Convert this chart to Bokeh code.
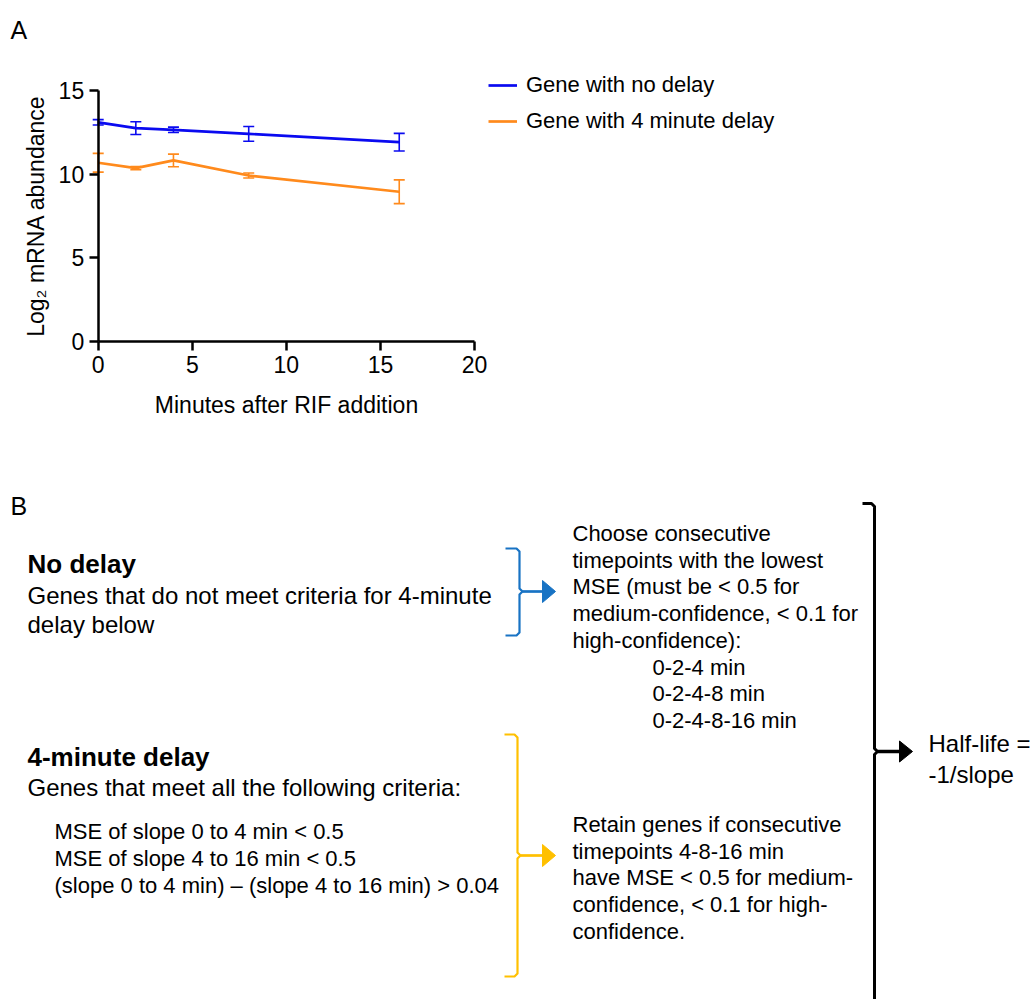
from bokeh.plotting import figure
from bokeh.models import (Range1d, FixedTicker, ColumnDataSource, Whisker, TeeHead,
                          Legend, LegendItem, LinearAxis)
from bokeh.embed import file_html
from bokeh.resources import INLINE
from bokeh.core.properties import value

FONT = "Liberation Sans"

# ---- Panel A data: log2 mRNA abundance after rifampicin addition ----
minutes = [0, 2, 4, 8, 16]
no_delay_mean = [13.10, 12.75, 12.65, 12.41, 11.91]
no_delay_err = [0.16, 0.38, 0.16, 0.44, 0.53]
delay_mean = [10.68, 10.36, 10.82, 9.92, 8.95]
delay_err = [0.56, 0.10, 0.38, 0.15, 0.71]
series_labels = ["Gene with no delay", "Gene with 4 minute delay"]
series_colors = ["#0a0af0", "#ff8a1c"]
x_ticks = [0, 5, 10, 15, 20]
y_ticks = [0, 5, 10, 15]

# ---- Panel B text ----
no_delay_title = "No delay"
no_delay_body = ["Genes that do not meet criteria for 4-minute", "delay below"]
delay_title = "4-minute delay"
delay_body = ["Genes that meet all the following criteria:"]
delay_criteria = ["MSE of slope 0 to 4 min < 0.5",
                  "MSE of slope 4 to 16 min < 0.5",
                  "(slope 0 to 4 min) \u2013 (slope 4 to 16 min) > 0.04"]
choose_text = ["Choose consecutive", "timepoints with the lowest",
               "MSE (must be < 0.5 for", "medium-confidence, < 0.1 for",
               "high-confidence):"]
choose_windows = ["0-2-4 min", "0-2-4-8 min", "0-2-4-8-16 min"]
retain_text = ["Retain genes if consecutive", "timepoints 4-8-16 min",
               "have MSE < 0.5 for medium-", "confidence, < 0.1 for high-",
               "confidence."]
halflife_text = ["Half-life =", "-1/slope"]

# ---- page geometry (pixels, origin top-left) ----
W, H = 1036, 999
A_LEFT, A_RIGHT = 97.7, 474.0     # where x = 0 and x = 20 sit
A_TOP, A_BOTTOM = 90.0, 341.0     # where y = 15 and y = 0 sit
X_MAX, Y_MAX = x_ticks[-1], y_ticks[-1]

# one canvas for the whole page; panel B is laid out in page pixels
p = figure(width=W, height=H, x_range=Range1d(0, W), y_range=Range1d(H, 0),
           output_backend="svg", toolbar_location=None, min_border=0,
           x_axis_type=None, y_axis_type=None)
p.grid.visible = False
p.outline_line_color = None

# data ranges for panel A, stretched so the axes land at the panel's position
kx = (A_RIGHT - A_LEFT) / X_MAX
ky = (A_BOTTOM - A_TOP) / Y_MAX
p.extra_x_ranges = {"ax": Range1d(-A_LEFT / kx, X_MAX + (W - A_RIGHT) / kx)}
p.extra_y_ranges = {"ay": Range1d(-(H - A_BOTTOM) / ky, Y_MAX + A_TOP / ky)}

xaxis = LinearAxis(x_range_name="ax", y_range_name="ay", fixed_location=0,
                   bounds=(0, X_MAX), ticker=FixedTicker(ticks=x_ticks),
                   axis_label="Minutes after RIF addition")
yaxis = LinearAxis(x_range_name="ax", y_range_name="ay", fixed_location=0,
                   bounds=(0, Y_MAX), ticker=FixedTicker(ticks=y_ticks),
                   axis_label="Log\u2082 mRNA abundance")
for ax in (xaxis, yaxis):
    ax.axis_line_width = 2.5
    ax.axis_line_color = "black"
    ax.major_tick_line_width = 2.5
    ax.major_tick_line_color = "black"
    ax.major_tick_out = 9
    ax.major_tick_in = 0
    ax.minor_tick_line_color = None
    ax.major_label_text_font = FONT
    ax.major_label_text_font_size = "23px"
    ax.major_label_text_color = "black"
    ax.major_label_standoff = 5
    ax.axis_label_text_font = FONT
    ax.axis_label_text_font_size = "23px"
    ax.axis_label_text_font_style = "normal"
    ax.axis_label_text_color = "black"
xaxis.axis_label_standoff = 16
yaxis.axis_label_standoff = 7
p.add_layout(xaxis, "below")
p.add_layout(yaxis, "left")

items = []
for mean, err, color, label in zip([no_delay_mean, delay_mean], [no_delay_err, delay_err],
                                   series_colors, series_labels):
    src = ColumnDataSource(dict(
        x=minutes, y=mean,
        lo=[m - e for m, e in zip(mean, err)],
        hi=[m + e for m, e in zip(mean, err)]))
    r = p.line("x", "y", source=src, line_color=color, line_width=2.7,
               x_range_name="ax", y_range_name="ay")
    p.add_layout(Whisker(
        source=src, base="x", lower="lo", upper="hi", dimension="height",
        x_range_name="ax", y_range_name="ay",
        line_color=color, line_width=1.6,
        upper_head=TeeHead(size=11, line_color=color, line_width=1.6),
        lower_head=TeeHead(size=11, line_color=color, line_width=1.6)))
    items.append(LegendItem(label=label, renderers=[r]))

legend = Legend(items=items, location=(488, H - 139), orientation="vertical",
                glyph_width=29, glyph_height=36, label_height=36, spacing=0,
                padding=0, margin=0, label_standoff=9,
                border_line_color=None, background_fill_alpha=0,
                label_text_font=FONT, label_text_font_size="22px",
                label_text_color="black")
p.add_layout(legend)


def lines(x, ys, texts, size, style="normal"):
    p.text(x=[x] * len(texts), y=ys, text=texts,
           text_font=value(FONT), text_font_size=value(size),
           text_font_style=style, text_color="black",
           text_baseline="alphabetic", text_align="left")


# panel letters
lines(10, [29], ["A"], "25px")
lines(10, [505], ["B"], "25px")

# left column: gene classes
lines(27, [563], [no_delay_title], "26px", "bold")
lines(27, [595, 624], no_delay_body, "24px")
lines(27, [756], [delay_title], "26px", "bold")
lines(27, [787], delay_body, "24px")
lines(54, [831, 858, 885], delay_criteria, "22px")

# middle column: fitting rules
step = 26.7
lines(572, [533 + i * step for i in range(len(choose_text))], choose_text, "22px")
lines(652, [533 + (len(choose_text) + i) * step for i in range(len(choose_windows))],
      choose_windows, "22px")
lines(572, [824 + i * step for i in range(len(retain_text))], retain_text, "22px")

# right: result
lines(928, [743, 774], halflife_text, "24px")


def bracket(x, top, bottom, mid, color, width, hook, arrow_end, head_len, head_h):
    xs = [x - hook, x - 3, x, x, x + 3, x, x, x - 3, x - hook]
    ys = [top, top, top + 3, mid - 3, mid, mid + 3, bottom - 3, bottom, bottom]
    p.line(xs, ys, line_color=color, line_width=width, line_join="round")
    p.line([x + 3, arrow_end], [mid, mid], line_color=color, line_width=width + 0.5)
    p.patch([arrow_end, arrow_end, arrow_end + head_len],
            [mid - head_h / 2, mid + head_h / 2, mid], fill_color=color, line_color=color)


bracket(519, 548, 635, 591, "#1873c4", 2.2, 14, 542, 13, 22)
bracket(517, 734, 976, 855, "#ffc000", 2.2, 13, 542, 13, 22)
bracket(874, 503, 1010, 751, "black", 3, 12, 899, 13, 21)

open("out.html", "w").write(file_html(p, INLINE))
